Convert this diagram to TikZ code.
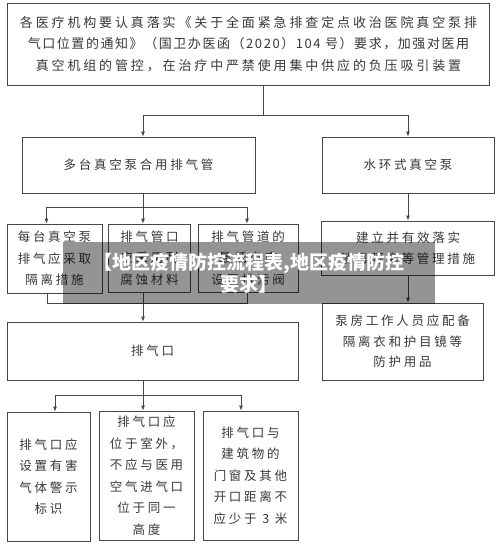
\documentclass[tikz,border=0pt]{standalone}
\usepackage{fontspec}
\newfontfamily\cjk[LetterSpace=22]{Noto Sans CJK SC}
\newfontfamily\cjktight[LetterSpace=12]{Noto Sans CJK SC}
\newfontfamily\bannerfont{Noto Sans CJK SC}
\usetikzlibrary{arrows.meta}
\definecolor{linegray}{RGB}{70,70,70}
\definecolor{textgray}{RGB}{55,55,55}
\tikzset{
  box/.style={draw=linegray, line width=0.8pt, inner sep=0pt, align=center, text=textgray, font=\cjk\fontsize{12.5}{21.5}\selectfont},
  conn/.style={draw=linegray, line width=0.8pt},
  arr/.style={conn, -{Latex[length=5pt,width=4pt]}},
}
\begin{document}
\begin{tikzpicture}[x=1pt,y=-1pt]
\useasboundingbox (0,0) rectangle (500,547);

\node[box, minimum width=482, minimum height=82, font=\cjk\fontsize{13}{21.5}\selectfont] (top) at (248.5,44)
  {各医疗机构要认真落实《关于全面紧急排查定点收治医院真空泵排\\{\cjktight 气口位置的通知》（国卫办医函（2020）104 号）要求，加强对医用}\\真空机组的管控，在治疗中严禁使用集中供应的负压吸引装置};

\node[box, minimum width=233, minimum height=56] (multi) at (138.5,165) {多台真空泵合用排气管};
\node[box, minimum width=172, minimum height=56] (water) at (408,165) {水环式真空泵};

\node[box, minimum width=95, minimum height=69] (boxA) at (54.5,258.5) {每台真空泵\\排气应采取\\隔离措施};
\node[box, minimum width=82, minimum height=68] (boxB) at (149.5,258) {排气管口\\应采用耐\\腐蚀材料};
\node[box, minimum width=100, minimum height=68] (boxC) at (248,258) {排气管道的\\最低点应\\设置排污阀};
\node[box, minimum width=173, minimum height=54] (manage) at (408,248) {建立并有效落实\\消毒隔离等管理措施};

\node[box, minimum width=291, minimum height=58] (exhaust) at (152.5,351) {排气口};
\node[box, minimum width=161, minimum height=77, font=\cjk\fontsize{12.5}{20.5}\selectfont] (protect) at (402.5,341.5) {泵房工作人员应配备\\隔离衣和护目镜等\\防护用品};

\node[box, minimum width=83, minimum height=129] (bot1) at (48.5,476.5) {排气口应\\设置有害\\气体警示\\标识};
\node[box, minimum width=95, minimum height=129] (bot2) at (146.5,475.5) {排气口应\\位于室外，\\不应与医用\\空气进气口\\位于同一\\高度};
\node[box, minimum width=95, minimum height=129] (bot3) at (250.5,475.5) {排气口与\\建筑物的\\门窗及其他\\开口距离不\\应少于 3 米};

\draw[conn] ([xshift=14.5pt]top.south) -- ++(0,30) coordinate (b1);
\draw[arr] (b1) -| ([xshift=4.5pt]multi.north);
\draw[arr] (b1) -| (water.north);

\draw[conn] ([xshift=4.5pt]multi.south) -- ++(0,14) coordinate (b2);
\draw[arr] (b2) -| ([xshift=-8pt]boxA.north);
\draw[arr] (b2) -- ([xshift=-6.5pt]boxB.north);
\draw[arr] (b2) -| ([xshift=-1pt]boxC.north);

\draw[conn] ([xshift=-7.5pt]boxA.south) -- ++(0,10) -| ([xshift=-1pt]boxC.south);
\draw[arr] ([xshift=-6.5pt]boxB.south) -- ([xshift=-9.5pt]exhaust.north);

\draw[conn] ([xshift=-9.5pt]exhaust.south) -- ++(0,15) coordinate (b3);
\draw[arr] (b3) -| ([xshift=6.5pt]bot1.north);
\draw[arr] (b3) -- ([xshift=-3.5pt]bot2.north);
\draw[arr] (b3) -| ([xshift=-9.5pt]bot3.north);

\draw[arr] (water.south) -- (manage.north);
\draw[arr] (manage.south) -- ([xshift=5.5pt]protect.north);

\node[fill=black, fill opacity=0.42, text opacity=1, text=white, inner sep=0pt, minimum width=372, minimum height=62, align=center, font=\bannerfont\bfseries\fontsize{19}{22}\selectfont] (banner) at (249,273)
  {【地区疫情防控流程表,地区疫情防控\\要求】};
\end{tikzpicture}
\end{document}
